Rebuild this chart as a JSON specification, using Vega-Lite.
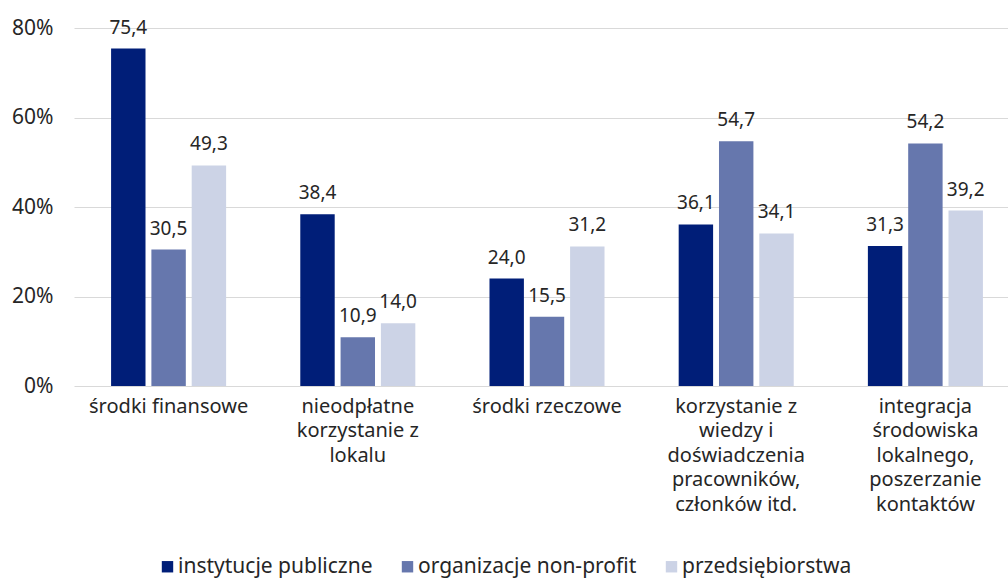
{
  "$schema": "https://vega.github.io/schema/vega-lite/v6.json",
  "autosize": "none",
  "width": 934,
  "height": 358,
  "padding": {"left": 74, "top": 28, "right": 0, "bottom": 193},
  "background": "white",
  "config": {
    "view": {"stroke": null},
    "font": "Noto Sans",
    "locale": {"number": {"decimal": ",", "thousands": " ", "grouping": [3], "currency": ["", " zł"]}},
    "axis": {"labelFont": "Noto Sans", "labelColor": "#262626", "labelFontSize": 21},
    "legend": {"labelFont": "Noto Sans", "labelColor": "#262626", "labelFontSize": 21, "labelLimit": 400}
  },
  "data": {
    "values": [
      {"kategoria": "środki finansowe", "typ": "instytucje publiczne", "wartosc": 75.4},
      {"kategoria": "środki finansowe", "typ": "organizacje non-profit", "wartosc": 30.5},
      {"kategoria": "środki finansowe", "typ": "przedsiębiorstwa", "wartosc": 49.3},
      {"kategoria": "nieodpłatne korzystanie z lokalu", "typ": "instytucje publiczne", "wartosc": 38.4},
      {"kategoria": "nieodpłatne korzystanie z lokalu", "typ": "organizacje non-profit", "wartosc": 10.9},
      {"kategoria": "nieodpłatne korzystanie z lokalu", "typ": "przedsiębiorstwa", "wartosc": 14.0},
      {"kategoria": "środki rzeczowe", "typ": "instytucje publiczne", "wartosc": 24.0},
      {"kategoria": "środki rzeczowe", "typ": "organizacje non-profit", "wartosc": 15.5},
      {"kategoria": "środki rzeczowe", "typ": "przedsiębiorstwa", "wartosc": 31.2},
      {"kategoria": "korzystanie z wiedzy i doświadczenia pracowników, członków itd.", "typ": "instytucje publiczne", "wartosc": 36.1},
      {"kategoria": "korzystanie z wiedzy i doświadczenia pracowników, członków itd.", "typ": "organizacje non-profit", "wartosc": 54.7},
      {"kategoria": "korzystanie z wiedzy i doświadczenia pracowników, członków itd.", "typ": "przedsiębiorstwa", "wartosc": 34.1},
      {"kategoria": "integracja środowiska lokalnego, poszerzanie kontaktów", "typ": "instytucje publiczne", "wartosc": 31.3},
      {"kategoria": "integracja środowiska lokalnego, poszerzanie kontaktów", "typ": "organizacje non-profit", "wartosc": 54.2},
      {"kategoria": "integracja środowiska lokalnego, poszerzanie kontaktów", "typ": "przedsiębiorstwa", "wartosc": 39.2}
    ]
  },
  "encoding": {
    "x": {
      "field": "kategoria", "type": "nominal", "sort": null,
      "scale": {"range": [0, 946], "paddingInner": 0.392, "paddingOuter": 0.196},
      "axis": {
        "title": null, "domain": false, "ticks": false, "labelAngle": 0,
        "labelFontSize": 20, "labelPadding": 10, "labelLineHeight": 24.5, "labelBaseline": "top",
        "labelExpr": "datum.label == 'nieodpłatne korzystanie z lokalu' ? ['nieodpłatne', 'korzystanie z', 'lokalu'] : datum.label == 'korzystanie z wiedzy i doświadczenia pracowników, członków itd.' ? ['korzystanie z', 'wiedzy i', 'doświadczenia', 'pracowników,', 'członków itd.'] : datum.label == 'integracja środowiska lokalnego, poszerzanie kontaktów' ? ['integracja', 'środowiska', 'lokalnego,', 'poszerzanie', 'kontaktów'] : datum.label"
      }
    },
    "xOffset": {"field": "typ", "type": "nominal", "sort": null, "scale": {"paddingInner": 0.146, "paddingOuter": 0}},
    "y": {
      "field": "wartosc", "type": "quantitative",
      "scale": {"domain": [0, 80], "nice": false},
      "axis": {
        "title": null, "values": [0, 20, 40, 60, 80], "domain": false, "ticks": false,
        "labelPadding": 21, "labelExpr": "datum.value + '%'",
        "grid": true, "gridColor": "#d9d9d9", "gridWidth": 1
      }
    }
  },
  "layer": [
    {
      "mark": {"type": "bar"},
      "encoding": {
        "color": {
          "field": "typ", "type": "nominal", "sort": null,
          "scale": {"domain": ["instytucje publiczne", "organizacje non-profit", "przedsiębiorstwa"], "range": ["#001E78", "#6677AD", "#CCD3E6"]},
          "legend": {
            "title": null, "orient": "none", "legendX": 83, "legendY": 528, "direction": "horizontal",
            "symbolType": "square", "symbolSize": 130, "symbolStrokeWidth": 0,
            "labelOffset": 0, "columnPadding": 24
          }
        }
      }
    },
    {
      "mark": {"type": "text", "baseline": "bottom", "dy": -11, "fontSize": 19, "color": "#262626", "font": "Noto Sans"},
      "encoding": {"text": {"field": "wartosc", "type": "quantitative", "format": ".1f"}}
    }
  ]
}
